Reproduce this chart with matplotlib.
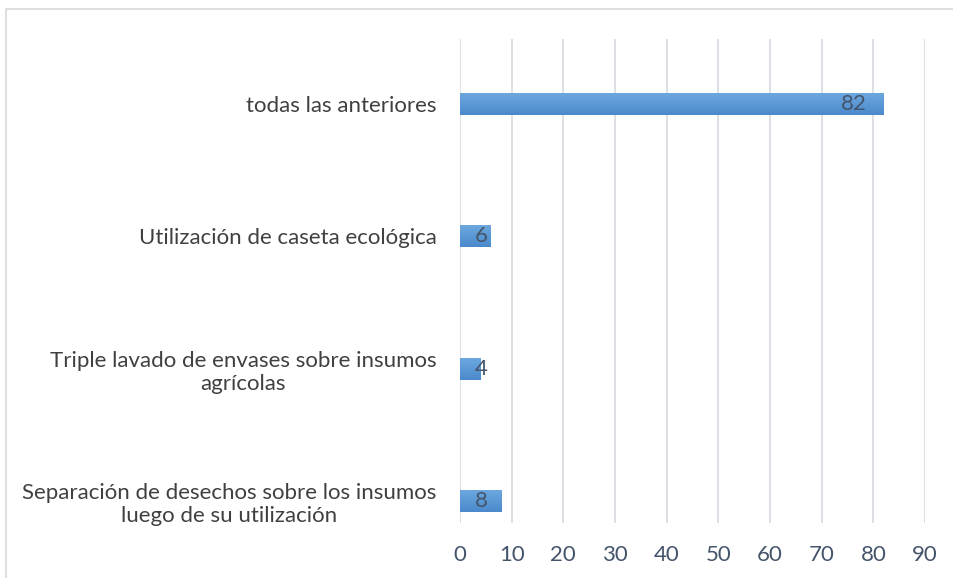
import numpy as np
import matplotlib.pyplot as plt
from matplotlib.patches import Rectangle

categories = [
    "Separación de desechos sobre los insumos\nluego de su utilización",
    "Triple lavado de envases sobre insumos\nagrícolas",
    "Utilización de caseta ecológica",
    "todas las anteriores",
]
values = [8, 4, 6, 82]
xticks = [0, 10, 20, 30, 40, 50, 60, 70, 80, 90]

plt.rcParams["font.family"] = ["Lato", "DejaVu Sans"]
text_color = "#44546A"
label_color = "#404040"

fig = plt.figure(figsize=(9.54, 5.78), dpi=100)
ax = fig.add_axes([460 / 954, 1 - 523 / 578, 465 / 954, 484 / 578])

# chart border
fig.patches.append(Rectangle((6 / 954, -0.01), 1.0, 1 - 9 / 578 + 0.01,
                             transform=fig.transFigure, fill=False,
                             edgecolor="#d9d9d9", linewidth=1.2))

ypos = np.arange(len(categories))
bar_h = 0.165
bars = ax.barh(ypos, values, height=bar_h, color="#5B9BD5", zorder=2)

# vertical gradient on each bar (light top, darker bottom)
grad = np.linspace(0, 1, 64).reshape(-1, 1)
cmap = plt.matplotlib.colors.LinearSegmentedColormap.from_list(
    "g", ["#4A89CC", "#6CA7DE"])
for b in bars:
    x0, y0 = b.get_x(), b.get_y()
    w, h = b.get_width(), b.get_height()
    im = ax.imshow(grad, cmap=cmap, aspect="auto", origin="lower",
                   extent=[x0, x0 + w, y0, y0 + h], zorder=3)
    im.set_clip_path(b)

for y, v in zip(ypos, values):
    ax.text(max(v - 3.3, 5.4), y, str(v), ha="right", va="center",
            fontsize=16, color=text_color, zorder=4)

ax.set_xlim(0, 90)
ax.set_ylim(-0.166, 3.49)
ax.set_xticks(xticks)
ax.set_xticklabels([str(t) for t in xticks], fontsize=16, color=text_color)
ax.set_yticks(ypos)
ax.set_yticklabels(categories, fontsize=16, color=label_color,
                   multialignment="center")
ax.tick_params(axis="both", length=0)
ax.tick_params(axis="x", pad=16)
ax.tick_params(axis="y", pad=17)
ax.grid(axis="x", color="#d9dde3", linewidth=1.3, zorder=0)
for s in ax.spines.values():
    s.set_visible(False)

fig.savefig("out.png", dpi=100)
